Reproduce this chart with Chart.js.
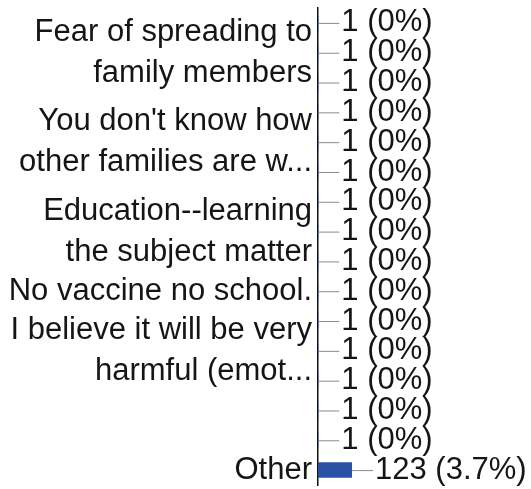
<!DOCTYPE html>
<html>
<head>
<meta charset="utf-8">
<script src="https://cdn.jsdelivr.net/npm/chart.js@4.4.0/dist/chart.umd.min.js"></script>
<style>
    html, body { margin: 0; padding: 0; background: #fff; }
    #wrap { width: 531px; height: 489px; position: relative; }
</style>
</head>
<body>
<div id="wrap"><canvas id="chart1"></canvas></div>
<script>
// categories (only some rows carry a visible label in the original)
var categories = [
    "",
    ["Fear of spreading to", "family members"],
    "",
    "",
    ["You don't know how", "other families are w..."],
    "",
    "",
    ["Education--learning", "the subject matter"],
    "",
    "No vaccine no school.",
    "",
    ["I believe it will be very", "harmful (emot..."],
    "",
    "",
    "",
    "Other"
];
var counts = [1, 1, 1, 1, 1, 1, 1, 1, 1, 1, 1, 1, 1, 1, 1, 123];
var percents = ["0", "0", "0", "0", "0", "0", "0", "0", "0", "0", "0", "0", "0", "0", "0", "3.7"];

var FONT = "'Liberation Sans', Arial, sans-serif";

// leader line + "n (p%)" label after each bar
var valueLabels = {
    id: 'valueLabels',
    afterDatasetsDraw: function (chart) {
        var ctx = chart.ctx;
        var meta = chart.getDatasetMeta(0);
        ctx.save();
        ctx.font = "31px " + FONT;
        ctx.textBaseline = "middle";
        ctx.textAlign = "left";
        meta.data.forEach(function (bar, i) {
            var x = bar.x;
            var y = bar.y;
            ctx.strokeStyle = "#8a8a8a";
            ctx.lineWidth = 1;
            ctx.beginPath();
            ctx.moveTo(x, y + 0.5);
            ctx.lineTo(x + 21, y + 0.5);
            ctx.stroke();
            ctx.fillStyle = "#151515";
            ctx.fillText(counts[i] + " (" + percents[i] + "%)", x + 23, y);
        });
        ctx.restore();
    }
};

var ctxChart1 = document.getElementById('chart1').getContext('2d');
var chart1 = new Chart(ctxChart1, {
    type: 'bar',
    plugins: [valueLabels],
    data: {
        labels: categories,
        datasets: [{
            data: counts,
            backgroundColor: '#2a50a6',
            borderWidth: 0,
            barPercentage: 0.52,
            categoryPercentage: 1
        }]
    },
    options: {
        indexAxis: 'y',
        responsive: true,
        maintainAspectRatio: false,
        animation: false,
        layout: { padding: { top: 8, bottom: 4, left: 0, right: 0 } },
        plugins: {
            legend: { display: false },
            title: { display: false },
            tooltip: { enabled: false }
        },
        scales: {
            x: {
                display: false,
                min: 0,
                max: 770
            },
            y: {
                afterFit: function (scale) {
                    scale.width = 318;
                    scale.paddingTop = 0;
                    scale.paddingBottom = 0;
                },
                grid: { display: false, drawTicks: false },
                border: { display: true, color: '#111', width: 1.5 },
                ticks: {
                    autoSkip: false,
                    padding: 6,
                    color: '#151515',
                    font: { family: FONT, size: 31, lineHeight: 1.32 }
                }
            }
        }
    }
});
</script>
</body>
</html>
